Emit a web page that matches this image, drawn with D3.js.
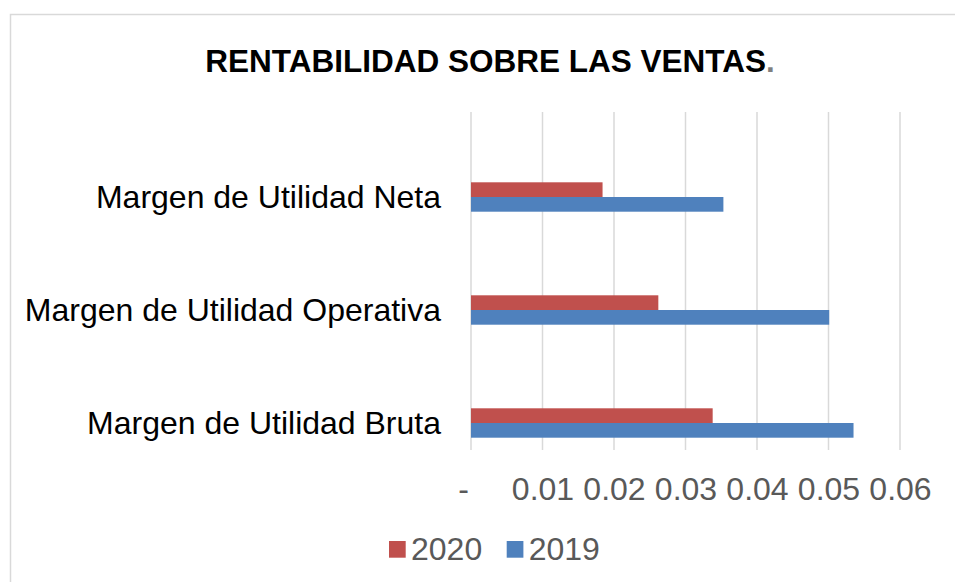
<!DOCTYPE html>
<html>
<head>
<meta charset="utf-8">
<script src="https://cdn.jsdelivr.net/npm/d3@7"></script>
<style>
  body { margin: 0; background: #fff; }
  svg { font-family: 'Liberation Sans', Arial, sans-serif; }
</style>
</head>
<body>
<main></main>
<script>
const categories = ['Margen de Utilidad Neta', 'Margen de Utilidad Operativa', 'Margen de Utilidad Bruta'];
const series = ['2020', '2019'];
const values2020 = [0.0184, 0.0262, 0.0338];
const values2019 = [0.0353, 0.0501, 0.0535];
const tickValues = [0, 0.01, 0.02, 0.03, 0.04, 0.05, 0.06];
const colors = ['#c0504d', '#4f81bd'];

const data = categories.map((c, i) => ({ cat: c, v: [values2020[i], values2019[i]] }));

const W = 955, H = 582;
const svg = d3.select('main').append('svg').attr('width', W).attr('height', H);

// chart frame
svg.append('rect')
  .attr('x', 10.5).attr('y', 14.5)
  .attr('width', W + 20).attr('height', H + 20)
  .attr('fill', 'none').attr('stroke', '#d9d9d9').attr('stroke-width', 1.5);

svg.append('text')
  .attr('x', 490).attr('y', 72)
  .attr('text-anchor', 'middle')
  .attr('font-size', 31.5).attr('font-weight', 'bold')
  .text('RENTABILIDAD SOBRE LAS VENTAS')
  .append('tspan').attr('fill', '#7f7f7f').text('.');

const x = d3.scaleLinear().domain([0, 0.06]).range([471, 900]);
const y = d3.scaleBand().domain(categories).range([140.5, 479.5]);
const barH = 14.7;
const gridTop = 112, gridBottom = 450;

// gridlines
svg.append('g')
  .selectAll('line')
  .data(tickValues)
  .enter()
  .append('line')
  .attr('x1', d => x(d)).attr('x2', d => x(d))
  .attr('y1', gridTop).attr('y2', gridBottom)
  .attr('stroke', '#d9d9d9').attr('stroke-width', 1.5);

const xAxis = svg.append('g')
  .attr('transform', `translate(0, ${gridBottom})`)
  .call(d3.axisBottom(x).tickValues(tickValues).tickSize(0).tickPadding(27)
    .tickFormat(d => d === 0 ? '-' : d3.format('.2f')(d)));
xAxis.select('.domain').remove();
xAxis.selectAll('text')
  .attr('font-family', "'Liberation Sans', Arial, sans-serif")
  .attr('font-size', 32).attr('fill', '#595959');
xAxis.selectAll('.tick').filter(d => d === 0).select('text').attr('dx', -8);

const groups = svg.selectAll('.cat')
  .data(data)
  .enter()
  .append('g')
  .attr('class', 'cat');

groups.selectAll('rect')
  .data(d => d.v.map((v, i) => ({ cat: d.cat, v: v, i: i })))
  .enter()
  .append('rect')
  .attr('x', x(0))
  .attr('y', d => y(d.cat) + y.bandwidth() / 2 - barH + d.i * barH)
  .attr('width', d => x(d.v) - x(0))
  .attr('height', barH)
  .attr('fill', d => colors[d.i]);

groups.append('text')
  .attr('x', 441)
  .attr('y', d => y(d.cat) + y.bandwidth() / 2 + 11)
  .attr('text-anchor', 'end')
  .attr('font-size', 32).attr('fill', '#000')
  .text(d => d.cat);

// legend
const legend = svg.append('g').attr('transform', 'translate(389, 549)');
const items = legend.selectAll('g')
  .data(series)
  .enter()
  .append('g')
  .attr('transform', (d, i) => `translate(${i * 117.7}, 0)`);
items.append('rect')
  .attr('x', 0).attr('y', -8).attr('width', 16.7).attr('height', 16.7)
  .attr('fill', (d, i) => colors[i]);
items.append('text')
  .attr('x', 22).attr('y', 11)
  .attr('font-size', 32).attr('fill', '#595959')
  .text(d => d);
</script>
</body>
</html>
